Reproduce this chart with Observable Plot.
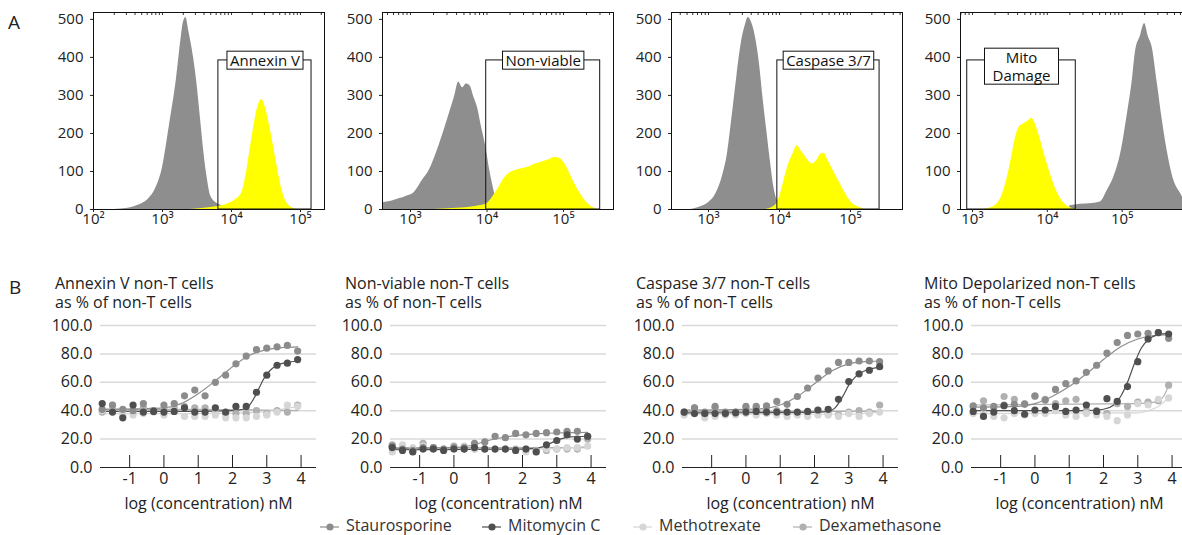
<!DOCTYPE html>
<html><head><meta charset="utf-8">
<script src="https://cdn.jsdelivr.net/npm/d3@7"></script>
<script src="https://cdn.jsdelivr.net/npm/@observablehq/plot@0.6"></script>
<style>
body{margin:0;background:#fff;}
#root{position:relative;width:1182px;height:535px;overflow:hidden;font-family:'Open Sans','DejaVu Sans',sans-serif;color:#222;}
.abs{position:absolute;white-space:pre;}
.ttl{font-size:16px;line-height:18.5px;color:#222;}
.leg{font-size:16px;color:#333;line-height:17px;}
</style></head><body><div id="root"></div><script>
// ---------- Panel A: flow cytometry histograms (log10 intensity, count) ----------
const annexinGray = [[2.3,0],[2.5,3],[2.6,8],[2.7,15],[2.8,28],[2.9,55],[3.0,110],[3.1,220],[3.2,340],[3.27,450],[3.3,490],[3.34,505],[3.38,470],[3.45,400],[3.5,330],[3.55,240],[3.6,150],[3.65,80],[3.7,35],[3.8,15],[3.9,8],[4.0,3],[4.1,0]];
const annexinYellow = [[3.4,0],[3.6,3],[3.8,8],[3.95,15],[4.05,25],[4.15,45],[4.22,100],[4.28,170],[4.34,235],[4.4,280],[4.44,289],[4.48,275],[4.53,240],[4.6,175],[4.66,115],[4.72,60],[4.78,25],[4.85,8],[4.95,0]];
const nonviableGray = [[2.64,18],[2.75,22],[2.85,28],[2.95,35],[3.05,45],[3.15,75],[3.25,105],[3.35,155],[3.45,215],[3.52,260],[3.58,300],[3.63,335],[3.68,320],[3.73,330],[3.78,325],[3.83,295],[3.88,265],[3.93,215],[3.98,170],[4.03,110],[4.08,60],[4.12,25],[4.16,5],[4.2,0]];
const nonviableYellow = [[3.3,0],[3.6,3],[3.9,10],[4.0,16],[4.08,35],[4.16,60],[4.22,80],[4.29,95],[4.38,103],[4.47,108],[4.55,112],[4.64,120],[4.72,125],[4.8,130],[4.88,137],[4.95,135],[5.01,122],[5.07,100],[5.12,78],[5.18,55],[5.25,33],[5.32,15],[5.38,6],[5.45,0]];
const caspaseGray = [[2.75,0],[2.9,8],[3.0,18],[3.1,40],[3.2,90],[3.27,150],[3.33,240],[3.4,350],[3.46,435],[3.52,485],[3.56,505],[3.6,495],[3.66,455],[3.72,380],[3.77,290],[3.82,210],[3.87,130],[3.92,60],[3.97,22],[4.02,5],[4.08,0]];
const caspaseYellow = [[3.8,0],[3.9,6],[3.96,16],[4.02,45],[4.09,95],[4.15,130],[4.2,150],[4.25,168],[4.3,155],[4.36,140],[4.42,125],[4.47,120],[4.53,130],[4.58,145],[4.63,148],[4.68,130],[4.75,105],[4.82,80],[4.89,55],[4.96,32],[5.03,15],[5.12,6],[5.2,0]];
const mitoGray = [[4.3,10],[4.44,14],[4.6,16],[4.71,20],[4.8,50],[4.89,86],[4.98,147],[5.07,252],[5.13,331],[5.18,418],[5.24,454],[5.3,489],[5.35,454],[5.4,427],[5.47,331],[5.53,243],[5.6,156],[5.69,77],[5.78,42],[5.86,15],[5.93,5]];
const mitoYellow = [[3.15,0],[3.25,5],[3.33,15],[3.4,40],[3.46,80],[3.52,135],[3.57,185],[3.62,215],[3.68,225],[3.74,232],[3.79,240],[3.84,225],[3.89,195],[3.94,160],[3.99,125],[4.05,88],[4.1,60],[4.15,38],[4.2,22],[4.26,10],[4.33,3],[4.4,0]];
const gateLabels = ["Annexin V","Non-viable","Caspase 3/7","Mito\nDamage"];
const gateLo = [3.81, 3.99, 3.97, 2.93];
const gateHi = [5.16, 5.48, 5.41, 4.38];
const gateTop = 392;
const histExpTicks = [[2,3,4,5],[3,4,5],[3,4,5],[3,4,5]];
const countTicks = [0,100,200,300,400,500];

// ---------- Panel B: dose response ----------
const conc = [-1.8,-1.5,-1.2,-0.9,-0.6,-0.3,0,0.3,0.6,0.9,1.2,1.5,1.8,2.1,2.4,2.7,3.0,3.3,3.6,3.9];
const drugs = ["Staurosporine","Mitomycin C","Methotrexate","Dexamethasone"];
const annexinStauro = [41,44,41,40,45,40,44,45,50.5,54.5,50.5,60,65,73,78.5,83,84,85,86,82];
const annexinMito   = [45,39,35,44,39,39.5,39,39.5,42,39,39,42,39,43,43,53,65,72,73.5,76];
const annexinMetho  = [40,44,37,37,38,39,37,40,36,36,36,37,35,35,35,36,37,39,44,43];
const annexinDexa   = [39,41,40,40,42,40,41,42,43,42,42,40,38,38,38,40,38,40,39,44];
const nonviableStauro = [15,13,12,14,14,13,14,14,17,18,22,21,24,23,24,24.5,25,25.5,25.5,22];
const nonviableMito   = [14,12,11,13,13,12,13,13,14,13,13,13,12,13,11,16,19,23,20,22];
const nonviableMetho  = [11,16,14,15,14,13,14,15,13,13,13,13,12,11,11,13,13,14,14,15];
const nonviableDexa   = [16,13,12,17,14,13,15,13,13,13,13,13,13,13,12,12,13,13,13,20];
const caspaseStauro = [39,42,39,43,39,39,43,43,43.5,46.5,44.5,50,56,63,68,74,74,75,75,74.5];
const caspaseMito   = [39,38,38,38,38,38.5,39,39.5,39,39,39,39,39.5,40.5,41,48,60.5,66,68.5,71];
const caspaseMetho  = [37,38,35,36,37,37,38,37,38,37,36,37,36,37,37,36,38,36,38,39];
const caspaseDexa   = [38,42,37,42,38,39,42,42,42,40,38,38,38,40,38,37,39,40,39,44];
const mitoStauro = [43.5,42,43,44,44.5,44.5,50.5,47.5,55,59,61,67,72,80.5,88,93,94,94.5,95,91];
const mitoMito   = [39.5,36,39,43.5,40,37.5,40.5,40.5,43,39.5,40.5,44,39.5,48.5,46.5,57,74.5,90.5,95,94];
const mitoMetho  = [38,38,36,35,38,37,38,38,40,37,36,38,37,36,33,37,45,44,48,49];
const mitoDexa   = [43,47,42,50,48,45,50,48,45,47,48,40,40,38,45,43,46,46,47,58];
// fitted curves [log conc, %]
const annexinStauroFit = [[-1.8,41],[-0.5,41.5],[0,42],[0.5,45],[1,52],[1.5,61],[2,71],[2.5,79],[3,83],[3.5,84.5],[3.9,85]];
const annexinMitoFit = [[-1.8,39.5],[1,39.5],[2,40],[2.3,41],[2.5,44],[2.7,52],[2.9,62],[3.1,68.5],[3.3,72],[3.6,74],[3.9,75]];
const annexinMethoFit = [[-1.8,38],[1,38],[2.5,38.5],[3.3,40.5],[3.9,43]];
const annexinDexaFit = [[-1.8,41],[1,41],[3.9,40]];
const nonviableStauroFit = [[-1.8,13.5],[0,14],[0.5,15.5],[1,19],[1.5,21.5],[2,23],[2.5,23.8],[3,24.3],[3.5,24.6],[3.9,24.7]];
const nonviableMitoFit = [[-1.8,12.5],[2,13],[2.5,14],[2.8,17],[3.1,20],[3.4,21.5],[3.9,22]];
const nonviableMethoFit = [[-1.8,13],[2.5,13],[3.5,14],[3.9,15]];
const nonviableDexaFit = [[-1.8,14],[3.9,14]];
const caspaseStauroFit = [[-1.8,40.5],[0,41],[0.5,41.5],[1,44],[1.5,50],[2,59],[2.5,68],[3,73],[3.5,74.5],[3.9,75]];
const caspaseMitoFit = [[-1.8,38.5],[2,38.8],[2.4,39.5],[2.6,42],[2.8,49],[3,58],[3.2,64],[3.5,68.5],[3.9,70.5]];
const caspaseMethoFit = [[-1.8,37.5],[3,37.5],[3.9,39]];
const caspaseDexaFit = [[-1.8,39.5],[3.9,39.5]];
const mitoStauroFit = [[-1.8,42.5],[-0.5,43],[0,45],[0.5,50],[1,57],[1.5,66],[2,76],[2.5,85],[3,90.5],[3.5,93],[3.9,93.5]];
const mitoMitoFit = [[-1.8,40],[1.5,40],[2,41],[2.3,44],[2.5,50],[2.7,60],[2.9,73],[3.1,84],[3.3,90],[3.6,93.5],[3.9,94.5]];
const mitoMethoFit = [[-1.8,38],[3,38.5],[3.3,40],[3.6,43],[3.9,49]];
const mitoDexaFit = [[-1.8,44],[3,45],[3.5,46],[3.75,50],[3.9,58]];
const bTitles = ["Annexin V non-T cells","Non-viable non-T cells","Caspase 3/7 non-T cells","Mito Depolarized non-T cells"];
const bSubtitle = "as % of non-T cells";
const concTicks = [-1,0,1,2,3,4];
const pctTicks = [0,20,40,60,80,100];

// ---------- layout & style ----------
const root = document.getElementById("root");
const FONT = "'Open Sans', 'DejaVu Sans', sans-serif";
const grayFill = "#8e8e8e", yellowFill = "#ffff00";
const drugColors = ["#8c8c8c","#4f4f4f","#d6d6d6","#b0b0b0"];
const aFrameLeft = [93, 382, 671, 960];
const aDomain = [[2.0,5.348],[2.634,5.654],[2.479,5.733],[2.84,5.926]];
const aPadX = [3,3,3,8];
const aDy = [0,0,0,6];
const bPlotLeft = [100, 390, 682, 971];
const bTitleLeft = [55, 345, 636, 924];

function place(el, left, top){ el.style.position="absolute"; el.style.left=left+"px"; el.style.top=top+"px"; root.appendChild(el); return el; }
function addText(txt, left, top, cls, style){ const d=document.createElement("div"); d.className="abs "+(cls||""); d.textContent=txt; if(style) Object.assign(d.style, style); d.style.left=left+"px"; d.style.top=top+"px"; root.appendChild(d); return d; }
const sup = {2:"²",3:"³",4:"⁴",5:"⁵"};

const histSets = [[annexinGray,annexinYellow],[nonviableGray,nonviableYellow],[caspaseGray,caspaseYellow],[mitoGray,mitoYellow]];
histSets.forEach(([g,y],i)=>{
  const mL = 45, mT = 12, W = 231, H = 197;
  const lo = gateLo[i], hi = gateHi[i];
  const gate = [{lo:10**lo, hi:10**hi, mid:10**((lo+hi)/2), label: gateLabels[i]}];
  const [e0, e1] = aDomain[i];
  const minor = [];
  for (let e = Math.floor(e0); e <= Math.ceil(e1); e++) for (let m = 1; m < 10; m++) { const v = m*10**e; if (v >= 10**e0 && v <= 10**e1) minor.push(v); }
  const p = Plot.plot({
    width: mL+W+2, height: mT+H+28, marginLeft: mL, marginRight: 2, marginTop: mT, marginBottom: 28,
    style: {fontFamily: FONT, fontSize: "15px", color: "#222", background: "transparent", overflow: "visible"},
    x: {type: "log", domain: aDomain[i].map(e=>10**e)},
    y: {domain: [0, 518]},
    marks: [
      Plot.areaY(g, {x: d=>10**d[0], y: d=>d[1], fill: grayFill, curve: "monotone-x"}),
      Plot.areaY(y, {x: d=>10**d[0], y: d=>d[1], fill: yellowFill, curve: "monotone-x"}),
      Plot.rect(gate, {x1: "lo", x2: "hi", y1: 0, y2: gateTop, fill: "none", stroke: "#111", strokeWidth: 1}),
      Plot.text(gate, {x: "mid", y: gateTop, text: "label", dy: aDy[i], fontSize: 15, fill: "#111", lineHeight: 1.2}),
      Plot.tickX(minor, {x: d=>d, stroke: "#333", insetBottom: H-3}),
      Plot.frame({stroke: "#111"}),
      Plot.axisY(countTicks, {tickSize: 3, tickPadding: 7, fontSize: 15, label: null}),
      Plot.axisX(histExpTicks[i].map(e=>10**e), {tickSize: 3, tickPadding: 1, fontSize: 15, label: null, tickFormat: d => "10"+sup[Math.round(Math.log10(d))]})
    ]
  });
  place(p, aFrameLeft[i]-mL, 0);
  const want = gateLabels[i].replace("\n","");
  p.querySelectorAll("text").forEach(t=>{
    if (t.textContent !== want) return;
    const b = t.getBBox();
    const r = document.createElementNS("http://www.w3.org/2000/svg","rect");
    r.setAttribute("x", b.x - aPadX[i]); r.setAttribute("y", b.y + 1);
    r.setAttribute("width", b.width + 2*aPadX[i]); r.setAttribute("height", b.height - 2);
    r.setAttribute("fill", "#fff"); r.setAttribute("stroke", "#111");
    const tr = t.getAttribute("transform"); if (tr) r.setAttribute("transform", tr);
    t.parentNode.insertBefore(r, t);
  });
});

const bSets = [
  [[annexinStauro,annexinMito,annexinMetho,annexinDexa],[annexinStauroFit,annexinMitoFit,annexinMethoFit,annexinDexaFit]],
  [[nonviableStauro,nonviableMito,nonviableMetho,nonviableDexa],[nonviableStauroFit,nonviableMitoFit,nonviableMethoFit,nonviableDexaFit]],
  [[caspaseStauro,caspaseMito,caspaseMetho,caspaseDexa],[caspaseStauroFit,caspaseMitoFit,caspaseMethoFit,caspaseDexaFit]],
  [[mitoStauro,mitoMito,mitoMetho,mitoDexa],[mitoStauroFit,mitoMitoFit,mitoMethoFit,mitoDexaFit]]
];
const drawOrder = [3,2,0,1];
bSets.forEach(([vals, fits], i)=>{
  const mL = 55, mT = 10, W = 216, H = 142, mB = 45;
  const marks = [
    Plot.gridY(pctTicks.slice(1), {stroke: "#d9d9d9", strokeOpacity: 1, strokeWidth: 1.5}),
    Plot.axisY(pctTicks, {tickSize: 0, tickPadding: 8, fontSize: 16, label: null, tickFormat: d=>d.toFixed(1)}),
    Plot.ruleY([0], {stroke: "#222"}),
    Plot.tickX(concTicks, {x: d=>d, stroke: "#222", insetTop: H-12}),
    Plot.axisX(concTicks, {tickSize: 0, tickPadding: 5, fontSize: 16, tickFormat: d=>String(d), label: "log (concentration) nM", labelAnchor: "center", labelOffset: 41, labelArrow: "none"})
  ];
  drawOrder.forEach(s=>{
    marks.push(Plot.line(fits[s], {x: d=>d[0], y: d=>d[1], stroke: drugColors[s], strokeWidth: 1.2, curve: "monotone-x"}));
  });
  drawOrder.forEach(s=>{
    marks.push(Plot.dot(conc.map((c,k)=>({c, v: vals[s][k]})), {x: "c", y: "v", r: 3.6, fill: drugColors[s]}));
  });
  const p = Plot.plot({
    width: mL+W+4, height: mT+H+mB, marginLeft: mL, marginRight: 4, marginTop: mT, marginBottom: mB,
    style: {fontFamily: FONT, fontSize: "16px", color: "#222", background: "transparent", overflow: "visible"},
    x: {domain: [-1.85, 4.45]},
    y: {domain: [0, 100]},
    marks
  });
  place(p, bPlotLeft[i]-mL, 315);
  addText(bTitles[i] + "\n" + bSubtitle, bTitleLeft[i], 274, "ttl");
});

addText("A", 8, 9, "", {fontSize: "19px"});
addText("B", 9, 274, "", {fontSize: "19px"});

// legend
const legX = [320, 482, 633, 793];
drugs.forEach((name,i)=>{
  const svg = document.createElementNS("http://www.w3.org/2000/svg","svg");
  svg.setAttribute("width", 20); svg.setAttribute("height", 10);
  svg.innerHTML = `<line x1="0" y1="5" x2="19" y2="5" stroke="${drugColors[i]}" stroke-width="1.2"/><circle cx="10" cy="5" r="3.6" fill="${drugColors[i]}"/>`;
  place(svg, legX[i], 522);
  addText(name, legX[i]+26, 517, "leg");
});
</script></body></html>
